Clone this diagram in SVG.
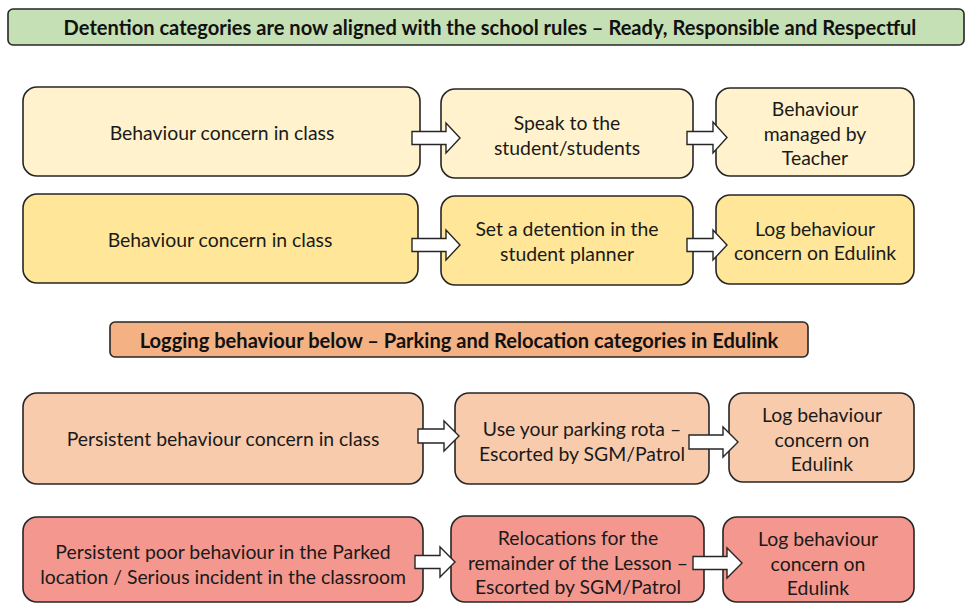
<svg xmlns="http://www.w3.org/2000/svg" width="966" height="603" viewBox="0 0 966 603">
<style>
  .box { stroke: #262626; stroke-width: 1.6; }
  .t { font-family: Lato, "Liberation Sans", sans-serif; font-size: 19.4px; fill: #1a1a1a; text-anchor: middle; dominant-baseline: central; }
  .h { font-family: Lato, "Liberation Sans", sans-serif; font-size: 20.1px; font-weight: bold; fill: #111; text-anchor: middle; dominant-baseline: central; }
  .arrow { fill: #ffffff; stroke: #262626; stroke-width: 1.4; stroke-linejoin: miter; }
  .y1 { fill: #fff2cc; } .y2 { fill: #ffe699; } .o1 { fill: #f8cbad; } .r1 { fill: #f4978e; }
</style>
<rect width="966" height="603" fill="#ffffff"/>
<g id="header1">
  <rect class="box" x="8" y="9" width="956" height="36" rx="5" fill="#c5e0b4"/>
  <text class="h" x="490" y="27">Detention categories are now aligned with the school rules – Ready, Responsible and Respectful</text>
</g>
<g id="r1a"><rect class="box y1" x="23" y="87" width="397" height="89" rx="14"/><text class="t" x="222" y="132">Behaviour concern in class</text></g>
<g id="r1b"><rect class="box y1" x="441" y="89" width="252" height="89" rx="14"/><text class="t" x="567" y="122">Speak to the</text><text class="t" x="567" y="147">student/students</text></g>
<g id="r1c"><rect class="box y1" x="716" y="88" width="198" height="88" rx="14"/><text class="t" x="815" y="108">Behaviour</text><text class="t" x="815" y="133">managed by</text><text class="t" x="815" y="157">Teacher</text></g>
<g id="r2a"><rect class="box y2" x="23" y="194" width="395" height="89" rx="14"/><text class="t" x="220" y="239">Behaviour concern in class</text></g>
<g id="r2b"><rect class="box y2" x="441" y="196" width="252" height="89" rx="14"/><text class="t" x="567" y="228">Set a detention in the</text><text class="t" x="567" y="253">student planner</text></g>
<g id="r2c"><rect class="box y2" x="716" y="195" width="198" height="89" rx="14"/><text class="t" x="815" y="228">Log behaviour</text><text class="t" x="815" y="252">concern on Edulink</text></g>
<g id="header2">
  <rect class="box" x="110" y="322" width="698" height="35" rx="5" fill="#f4b183"/>
  <text class="h" x="459" y="340">Logging behaviour below – Parking and Relocation categories in Edulink</text>
</g>
<g id="r3a"><rect class="box o1" x="23" y="393" width="400" height="91" rx="14"/><text class="t" x="223" y="438">Persistent behaviour concern in class</text></g>
<g id="r3b"><rect class="box o1" x="455" y="393" width="254" height="91" rx="14"/><text class="t" x="582" y="428">Use your parking rota –</text><text class="t" x="582" y="453">Escorted by SGM/Patrol</text></g>
<g id="r3c"><rect class="box o1" x="729" y="393" width="185" height="89" rx="14"/><text class="t" x="822" y="414">Log behaviour</text><text class="t" x="822" y="439">concern on</text><text class="t" x="822" y="463">Edulink</text></g>
<g id="r4a"><rect class="box r1" x="23" y="517" width="400" height="85" rx="14"/><text class="t" x="223" y="551">Persistent poor behaviour in the Parked</text><text class="t" x="223" y="576">location / Serious incident in the classroom</text></g>
<g id="r4b"><rect class="box r1" x="451" y="516" width="253" height="86" rx="14"/><text class="t" x="578" y="537">Relocations for the</text><text class="t" x="578" y="562">remainder of the Lesson –</text><text class="t" x="578" y="586">Escorted by SGM/Patrol</text></g>
<g id="r4c"><rect class="box r1" x="723" y="517" width="191" height="85" rx="14"/><text class="t" x="818" y="538">Log behaviour</text><text class="t" x="818" y="563">concern on</text><text class="t" x="818" y="587">Edulink</text></g>
<g id="connectors">
  <path class="arrow" d="M412,131.5 H446 V123 L460,138 L446,153 V144.5 H412 Z"/>
  <path class="arrow" d="M687,131.5 H713 V122 L727,137.5 L713,153 V144.5 H687 Z"/>
  <path class="arrow" d="M412,238.5 H446 V230 L460,245 L446,260 V251.5 H412 Z"/>
  <path class="arrow" d="M687,238.5 H713 V230 L727,245 L713,260 V251.5 H687 Z"/>
  <path class="arrow" d="M418,429 H444 V421 L459,436 L444,451 V443 H418 Z"/>
  <path class="arrow" d="M689,435 H723 V427 L738,442 L723,457 V449 H689 Z"/>
  <path class="arrow" d="M415,555.5 H440 V547 L455,562 L440,577 V568.5 H415 Z"/>
  <path class="arrow" d="M693,556.5 H727 V548 L742,563 L727,578 V569.5 H693 Z"/>
</g>
</svg>
